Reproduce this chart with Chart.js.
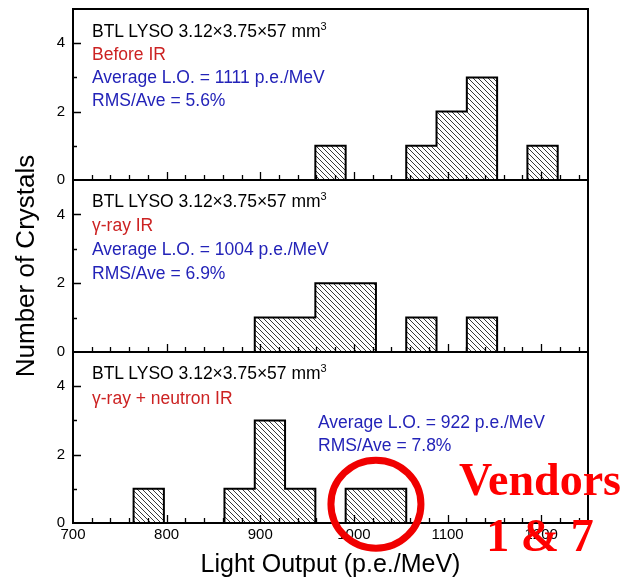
<!DOCTYPE html>
<html>
<head>
<meta charset="utf-8">
<title>BTL LYSO light output</title>
<script src="https://cdn.jsdelivr.net/npm/chart.js@4.4.1/dist/chart.umd.min.js"></script>
<style>
  html, body { margin: 0; padding: 0; background: #fff; }
  body { position: relative; width: 625px; height: 584px; overflow: hidden;
         font-family: "Liberation Sans", Arial, sans-serif; }
  .panel { position: absolute; left: 0; width: 625px; }
  .panel canvas { display: block; }
  .note { position: absolute; font-size: 17.5px; white-space: nowrap; }
  .blk { color: #000; }
  .red { color: #cc2222; }
  .blu { color: #2323b8; }
  sup { font-size: 11px; line-height: 0; vertical-align: 7px; }
  #vendors { position: absolute; left: 450px; top: 452px; width: 180px; text-align: center;
             font: bold 46px/56px "Liberation Serif", "Times New Roman", serif; color: #ff0000; }
</style>
</head>
<body>
<div class="panel" style="top:0;height:190px"><canvas id="pBefore" width="625" height="190"></canvas></div>
<div class="panel" style="top:120px;height:290px"><canvas id="pGamma" width="625" height="290"></canvas></div>
<div class="panel" style="top:342px;height:242px"><canvas id="pNeutron" width="625" height="242"></canvas></div>

<div class="note" style="left:92px;top:20px;line-height:23px">
  <div class="blk">BTL LYSO 3.12×3.75×57 mm<sup>3</sup></div>
  <div class="red">Before IR</div>
  <div class="blu">Average L.O. = 1111 p.e./MeV</div>
  <div class="blu">RMS/Ave = 5.6%</div>
</div>
<div class="note" style="left:92px;top:189px;line-height:24px">
  <div class="blk">BTL LYSO 3.12×3.75×57 mm<sup>3</sup></div>
  <div class="red">γ-ray IR</div>
  <div class="blu">Average L.O. = 1004 p.e./MeV</div>
  <div class="blu">RMS/Ave = 6.9%</div>
</div>
<div class="note" style="left:92px;top:361px;line-height:24.5px">
  <div class="blk">BTL LYSO 3.12×3.75×57 mm<sup>3</sup></div>
  <div class="red">γ-ray + neutron IR</div>
</div>
<div class="note" style="left:318px;top:411px;line-height:23px">
  <div class="blu">Average L.O. = 922 p.e./MeV</div>
  <div class="blu">RMS/Ave = 7.8%</div>
</div>
<div id="vendors">Vendors<br>1 &amp; 7</div>

<script>
// Histogram bin edges (p.e./MeV): 17 bins spanning 700-1250
const binEdges = [700, 732.35, 764.71, 797.06, 829.41, 861.76, 894.12, 926.47, 958.82,
                  991.18, 1023.53, 1055.88, 1088.24, 1120.59, 1152.94, 1185.29, 1217.65, 1250];
// Number of crystals per bin
const countsBeforeIR       = [0, 0, 0, 0, 0, 0, 0, 0, 1, 0, 0, 1, 2, 3, 0, 1, 0];
const countsGammaIR        = [0, 0, 0, 0, 0, 0, 1, 1, 2, 2, 0, 1, 0, 1, 0, 0, 0];
const countsGammaNeutronIR = [0, 0, 1, 0, 0, 1, 3, 1, 0, 1, 1, 0, 0, 0, 0, 0, 0];
// Axis ranges and tick labels
const xRange = [700, 1250];
const yRange = [0, 5];
const xTickValues = [700, 800, 900, 1000, 1100, 1200];
const yTickValues = [0, 2, 4];
const yMinorValues = [1, 3];
const xMinorStep = 20;
// Bins of vendors 1 & 7 in the neutron-irradiated sample
const markedBins = [9, 10];

const FONT = '"Liberation Sans", Arial, sans-serif';

function hatchPattern(ctx) {
  const t = document.createElement('canvas');
  t.width = 5; t.height = 5;
  const g = t.getContext('2d');
  g.strokeStyle = '#3a3a3a';
  g.lineWidth = 1;
  g.beginPath();
  g.moveTo(-1, -1); g.lineTo(6, 6);
  g.moveTo(-1, 4);  g.lineTo(1, 6);
  g.moveTo(4, -1);  g.lineTo(6, 1);
  g.stroke();
  return ctx.createPattern(t, 'repeat');
}

// Panel frame plus inward-pointing tick marks on the left and bottom edges
const framePlugin = {
  id: 'frameTicks',
  afterDatasetsDraw(chart) {
    const { ctx, chartArea: a, scales: { x, y } } = chart;
    ctx.save();
    ctx.strokeStyle = '#000';
    ctx.lineWidth = 1.3;
    ctx.beginPath();
    for (let v = xRange[0] + xMinorStep; v < xRange[1]; v += xMinorStep) {
      const px = Math.round(x.getPixelForValue(v)) + 0.5;
      const len = xTickValues.includes(v) ? 8 : 5;
      ctx.moveTo(px, a.bottom);
      ctx.lineTo(px, a.bottom - len);
    }
    yTickValues.concat(yMinorValues).forEach(v => {
      if (v === 0) return;
      const py = Math.round(y.getPixelForValue(v)) + 0.5;
      const len = yTickValues.includes(v) ? 8 : 4;
      ctx.moveTo(a.left, py);
      ctx.lineTo(a.left + len, py);
    });
    ctx.stroke();
    ctx.lineWidth = 2;
    ctx.strokeRect(a.left, a.top, a.right - a.left, a.bottom - a.top);
    ctx.restore();
  }
};

// Red ring around the vendor 1 & 7 bins
const ringPlugin = {
  id: 'vendorRing',
  afterDraw(chart) {
    const { ctx, scales: { x, y } } = chart;
    const cx = (x.getPixelForValue(binEdges[markedBins[0]]) +
                x.getPixelForValue(binEdges[markedBins[markedBins.length - 1] + 1])) / 2;
    const cy = y.getPixelForValue(0.55);
    ctx.save();
    ctx.strokeStyle = '#f00000';
    ctx.lineWidth = 7;
    ctx.beginPath();
    ctx.ellipse(cx, cy, 45, 44, 0, 0, Math.PI * 2);
    ctx.stroke();
    ctx.restore();
  }
};

function noEdgePadding(s) {
  s.paddingTop = 0; s.paddingBottom = 0; s.paddingLeft = 0; s.paddingRight = 0;
}

function buildPanel(canvasId, counts, cfg) {
  const ctx = document.getElementById(canvasId).getContext('2d');
  const points = counts.map((c, i) => ({ x: binEdges[i], y: c }));
  points.push({ x: binEdges[counts.length], y: 0 });
  return new Chart(ctx, {
    type: 'line',
    data: {
      datasets: [{
        data: points,
        stepped: 'before',
        fill: 'origin',
        backgroundColor: hatchPattern(ctx),
        borderColor: '#000',
        borderWidth: 2,
        pointRadius: 0,
        pointHoverRadius: 0
      }]
    },
    options: {
      responsive: false,
      animation: false,
      events: [],
      layout: { padding: { top: cfg.padTop, bottom: cfg.padBottom, left: 0, right: 37 } },
      plugins: { legend: { display: false }, tooltip: { enabled: false } },
      scales: {
        x: {
          type: 'linear',
          min: xRange[0],
          max: xRange[1],
          afterBuildTicks: s => { s.ticks = xTickValues.map(v => ({ value: v })); },
          afterFit: s => { s.height = cfg.xHeight; noEdgePadding(s); },
          grid: { display: false, drawTicks: false, tickLength: 0 },
          border: { display: false },
          ticks: {
            display: cfg.showX, padding: 3, color: '#000', maxRotation: 0, autoSkip: false,
            font: { family: FONT, size: 15 }, callback: v => String(v)
          },
          title: {
            display: cfg.showX, text: 'Light Output (p.e./MeV)', color: '#000',
            font: { family: FONT, size: 25 }, padding: { top: 0, bottom: 4 }
          }
        },
        y: {
          min: yRange[0],
          max: yRange[1],
          afterBuildTicks: s => { s.ticks = yTickValues.map(v => ({ value: v })); },
          afterFit: s => { s.width = 73; noEdgePadding(s); },
          grid: { display: false, drawTicks: false, tickLength: 0 },
          border: { display: false },
          ticks: {
            padding: 8, color: '#000', font: { family: FONT, size: 15 }, callback: v => String(v)
          },
          title: {
            display: cfg.showYTitle, text: 'Number of Crystals', color: '#000',
            font: { family: FONT, size: 26 }, padding: { top: 11, bottom: 0 }
          }
        }
      }
    },
    plugins: [framePlugin].concat(cfg.extra || [])
  });
}

buildPanel('pBefore', countsBeforeIR,
  { padTop: 9, padBottom: 10, xHeight: 0, showX: false, showYTitle: false });
buildPanel('pGamma', countsGammaIR,
  { padTop: 60, padBottom: 58, xHeight: 0, showX: false, showYTitle: true });
buildPanel('pNeutron', countsGammaNeutronIR,
  { padTop: 10, padBottom: 0, xHeight: 61, showX: true, showYTitle: false, extra: [ringPlugin] });
</script>
</body>
</html>
